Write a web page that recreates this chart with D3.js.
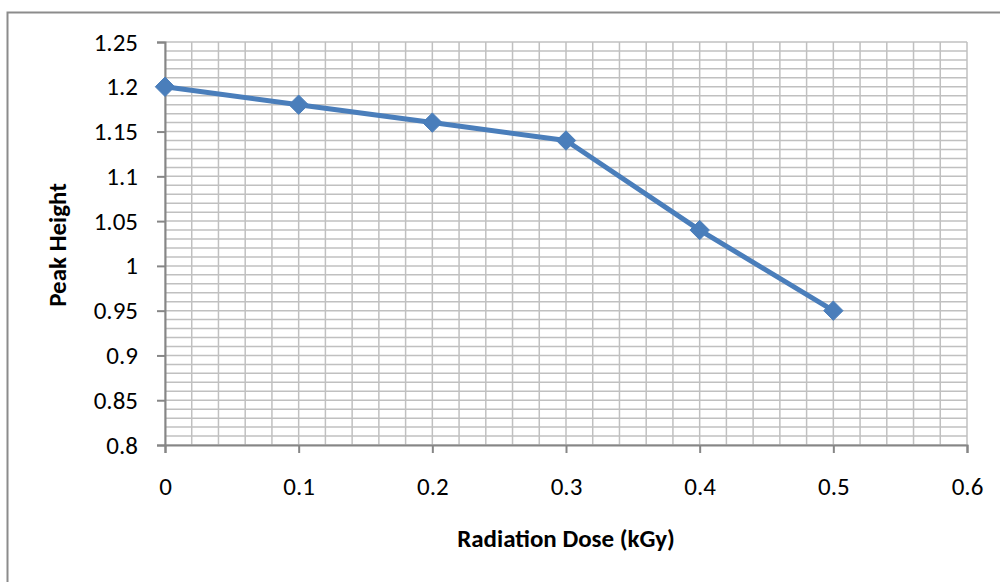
<!DOCTYPE html>
<html>
<head>
<meta charset="utf-8">
<script src="https://cdn.jsdelivr.net/npm/d3@7"></script>
<style>
  body { margin: 0; background: #fff; }
  text { font-family: Carlito, "Open Sans", "Liberation Sans", sans-serif; }
</style>
</head>
<body>
<svg id="chart" width="1000" height="582"></svg>
<script>
// data
const doses = [0, 0.1, 0.2, 0.3, 0.4, 0.5];
const peakHeights = [1.2, 1.18, 1.16, 1.14, 1.04, 0.95];
const xTicks = [0, 0.1, 0.2, 0.3, 0.4, 0.5, 0.6];
const yTicks = [0.8, 0.85, 0.9, 0.95, 1, 1.05, 1.1, 1.15, 1.2, 1.25];

const svg = d3.select("#chart");
const margin = { left: 165, right: 33, top: 42, bottom: 137 };
const width = 1000 - margin.left - margin.right;
const height = 582 - margin.top - margin.bottom;
const fontFam = 'Carlito, "Open Sans", "Liberation Sans", sans-serif';

// outer chart border (cut off at right/bottom)
svg.append("rect")
  .attr("x", 7.5).attr("y", 12.5)
  .attr("width", 1000).attr("height", 600)
  .attr("fill", "none")
  .attr("stroke", "#8c8c8c")
  .attr("stroke-width", 2);

const x = d3.scaleLinear().domain([0, 0.6]).range([0, width]);
const y = d3.scaleLinear().domain([0.8, 1.25]).range([height, 0]);

const g = svg.append("g").attr("transform", `translate(${margin.left},${margin.top})`);

// minor grid
const xMinor = d3.range(0, 31).map(i => i * 0.02);
const yMinor = d3.range(0, 46).map(i => 0.8 + i * 0.01);
g.append("g").selectAll("line").data(yMinor).join("line")
  .attr("x1", 0).attr("x2", width)
  .attr("y1", d => y(d)).attr("y2", d => y(d))
  .attr("stroke", "#c0c0c0").attr("stroke-width", 1.5);
g.append("g").selectAll("line").data(xMinor).join("line")
  .attr("y1", 0).attr("y2", height)
  .attr("x1", d => x(d)).attr("x2", d => x(d))
  .attr("stroke", "#c0c0c0").attr("stroke-width", 1.5);

// axes
const xAxis = g.append("g").attr("transform", `translate(0,${height})`)
  .call(d3.axisBottom(x).tickValues(xTicks).tickSize(8).tickPadding(24).tickFormat(d3.format("")));
const yAxis = g.append("g")
  .call(d3.axisLeft(y).tickValues(yTicks).tickSize(8).tickPadding(19).tickFormat(d3.format("")));
[xAxis, yAxis].forEach(a => {
  a.attr("font-size", null).attr("font-family", null);
  a.select(".domain").attr("stroke", "#868686").attr("stroke-width", 2);
  a.selectAll(".tick line").attr("stroke", "#868686").attr("stroke-width", 2);
  a.selectAll(".tick text").attr("fill", "#000")
    .style("font-size", "25px")
    .style("font-family", fontFam);
});

// series
const pts = doses.map((d, i) => [d, peakHeights[i]]);
g.append("path").datum(pts)
  .attr("fill", "none")
  .attr("stroke", "#4a7ebb")
  .attr("stroke-width", 5)
  .attr("stroke-linejoin", "round")
  .attr("d", d3.line().x(d => x(d[0])).y(d => y(d[1])));

g.append("g").selectAll("path").data(pts).join("path")
  .attr("transform", d => `translate(${x(d[0])},${y(d[1])})`)
  .attr("d", d3.symbol(d3.symbolDiamond2, 240))
  .attr("fill", "#4a7ebb")
  .attr("stroke", "#4a7ebb")
  .attr("stroke-width", 1);

// axis titles
svg.append("text")
  .attr("x", 566).attr("y", 547)
  .attr("text-anchor", "middle")
  .style("font-size", "25px").attr("font-weight", "bold")
  .text("Radiation Dose (kGy)");

svg.append("text")
  .attr("transform", "translate(66,245) rotate(-90)")
  .attr("text-anchor", "middle")
  .style("font-size", "25px").attr("font-weight", "bold")
  .text("Peak Height");
</script>
</body>
</html>
